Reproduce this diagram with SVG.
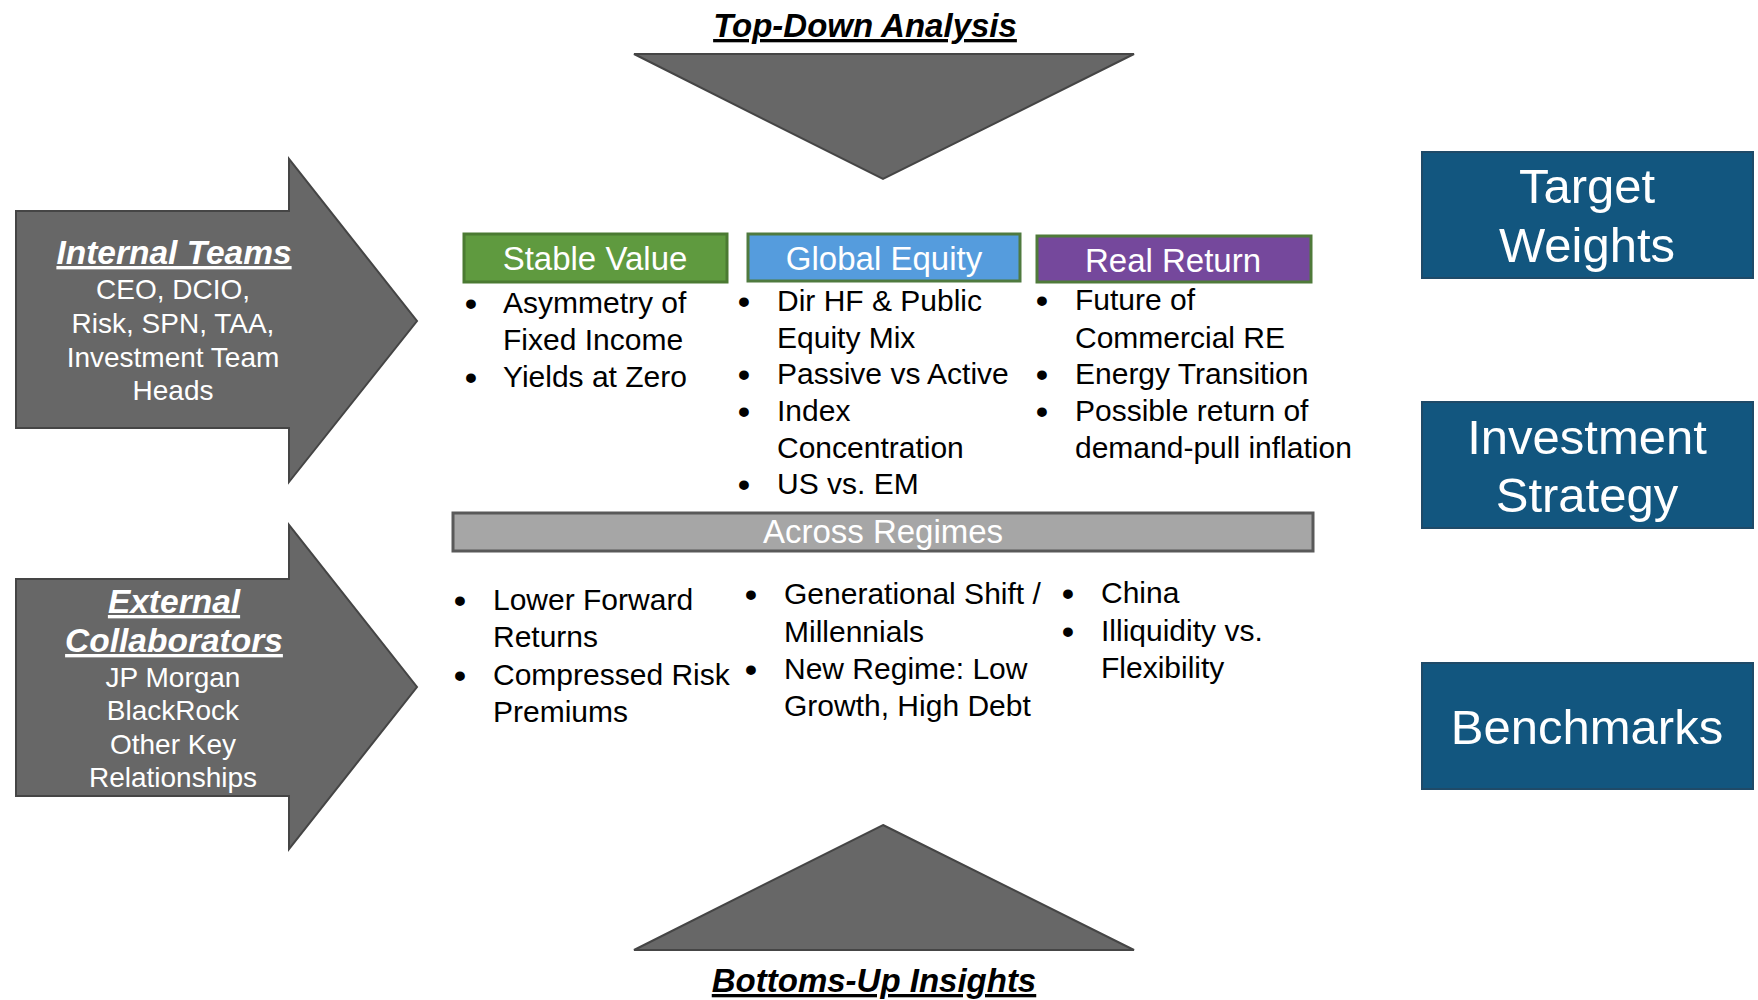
<svg xmlns="http://www.w3.org/2000/svg" width="1758" height="1000" viewBox="0 0 1758 1000">
<style>
text{font-family:"Liberation Sans",Arial,sans-serif}
.shape{fill:#676767;stroke:#454545;stroke-width:2;stroke-linejoin:miter}
.title{font-size:33px;font-weight:bold;font-style:italic;text-decoration:underline;fill:#000;text-anchor:middle}
.ahd{font-size:33.5px;font-weight:bold;font-style:italic;text-decoration:underline;fill:#fff;text-anchor:middle}
.atx{font-size:28px;fill:#fff;text-anchor:middle}
.lbl{font-size:33px;fill:#fff;text-anchor:middle}
.body{font-size:30px;fill:#000}
.bul{font-size:34px;font-weight:bold;fill:#000;text-anchor:middle}
.big{font-size:49px;fill:#fff;text-anchor:middle}
.out{fill:#12567F;stroke:#1F4A68;stroke-width:2}
</style>
<rect width="1758" height="1000" fill="#fff"/>

<g id="top-down">
<polygon class="shape" points="634,54 1134,54 883,179"/>
<text class="title" x="865" y="37">Top-Down Analysis</text>
</g>

<g id="bottoms-up">
<polygon class="shape" points="883,825 1134,950 634,950"/>
<text class="title" x="874" y="992">Bottoms-Up Insights</text>
</g>

<g id="internal-teams">
<polygon class="shape" points="16,211 289,211 289,159 417,321 289,482 289,428 16,428"/>
<text class="ahd" x="174" y="264">Internal Teams</text>
<text class="atx" x="173" y="299">CEO, DCIO,</text>
<text class="atx" x="173" y="333">Risk, SPN, TAA,</text>
<text class="atx" x="173" y="367">Investment Team</text>
<text class="atx" x="173" y="400">Heads</text>
</g>

<g id="external-collaborators">
<polygon class="shape" points="16,579 289,579 289,525 417,687 289,849 289,796 16,796"/>
<text class="ahd" x="174" y="613">External</text>
<text class="ahd" x="174" y="652">Collaborators</text>
<text class="atx" x="173" y="687">JP Morgan</text>
<text class="atx" x="173" y="720">BlackRock</text>
<text class="atx" x="173" y="754">Other Key</text>
<text class="atx" x="173" y="787">Relationships</text>
</g>

<g id="stable-value">
<rect x="464" y="234" width="263" height="48" fill="#5F9A3F" stroke="#4B7A32" stroke-width="3"/>
<text class="lbl" x="595" y="270">Stable Value</text>
<text class="bul" x="471" y="315">•</text><text class="body" x="503" y="313">Asymmetry of</text>
<text class="body" x="503" y="350">Fixed Income</text>
<text class="bul" x="471" y="389">•</text><text class="body" x="503" y="387">Yields at Zero</text>
</g>

<g id="global-equity">
<rect x="748" y="234" width="272" height="47" fill="#559CDD" stroke="#4F7A3F" stroke-width="3"/>
<text class="lbl" x="884" y="270">Global Equity</text>
<text class="bul" x="744" y="313">•</text><text class="body" x="777" y="311">Dir HF &amp; Public</text>
<text class="body" x="777" y="348">Equity Mix</text>
<text class="bul" x="744" y="386">•</text><text class="body" x="777" y="384">Passive vs Active</text>
<text class="bul" x="744" y="423">•</text><text class="body" x="777" y="421">Index</text>
<text class="body" x="777" y="458">Concentration</text>
<text class="bul" x="744" y="496">•</text><text class="body" x="777" y="494">US vs. EM</text>
</g>

<g id="real-return">
<rect x="1037" y="236" width="274" height="46" fill="#75489C" stroke="#4F7A3A" stroke-width="3"/>
<text class="lbl" x="1173" y="272">Real Return</text>
<text class="bul" x="1042" y="312">•</text><text class="body" x="1075" y="310">Future of</text>
<text class="body" x="1075" y="348">Commercial RE</text>
<text class="bul" x="1042" y="386">•</text><text class="body" x="1075" y="384">Energy Transition</text>
<text class="bul" x="1042" y="423">•</text><text class="body" x="1075" y="421">Possible return of</text>
<text class="body" x="1075" y="458">demand-pull inflation</text>
</g>

<g id="across-regimes">
<rect x="453" y="513" width="860" height="38" fill="#A6A6A6" stroke="#595959" stroke-width="3"/>
<text class="lbl" x="883" y="543">Across Regimes</text>
<text class="bul" x="460" y="612">•</text><text class="body" x="493" y="610">Lower Forward</text>
<text class="body" x="493" y="647">Returns</text>
<text class="bul" x="460" y="687">•</text><text class="body" x="493" y="685">Compressed Risk</text>
<text class="body" x="493" y="722">Premiums</text>
<text class="bul" x="751" y="606">•</text><text class="body" x="784" y="604">Generational Shift /</text>
<text class="body" x="784" y="642">Millennials</text>
<text class="bul" x="751" y="681">•</text><text class="body" x="784" y="679">New Regime: Low</text>
<text class="body" x="784" y="716">Growth, High Debt</text>
<text class="bul" x="1068" y="605">•</text><text class="body" x="1101" y="603">China</text>
<text class="bul" x="1068" y="643">•</text><text class="body" x="1101" y="641">Illiquidity vs.</text>
<text class="body" x="1101" y="678">Flexibility</text>
</g>

<g id="target-weights">
<rect class="out" x="1422" y="152" width="331" height="126"/>
<text class="big" x="1587" y="203">Target</text>
<text class="big" x="1587" y="262">Weights</text>
</g>

<g id="investment-strategy">
<rect class="out" x="1422" y="402" width="331" height="126"/>
<text class="big" x="1587" y="454">Investment</text>
<text class="big" x="1587" y="512">Strategy</text>
</g>

<g id="benchmarks">
<rect class="out" x="1422" y="663" width="331" height="126"/>
<text class="big" x="1587" y="744">Benchmarks</text>
</g>

<g id="connectors"></g>
</svg>
